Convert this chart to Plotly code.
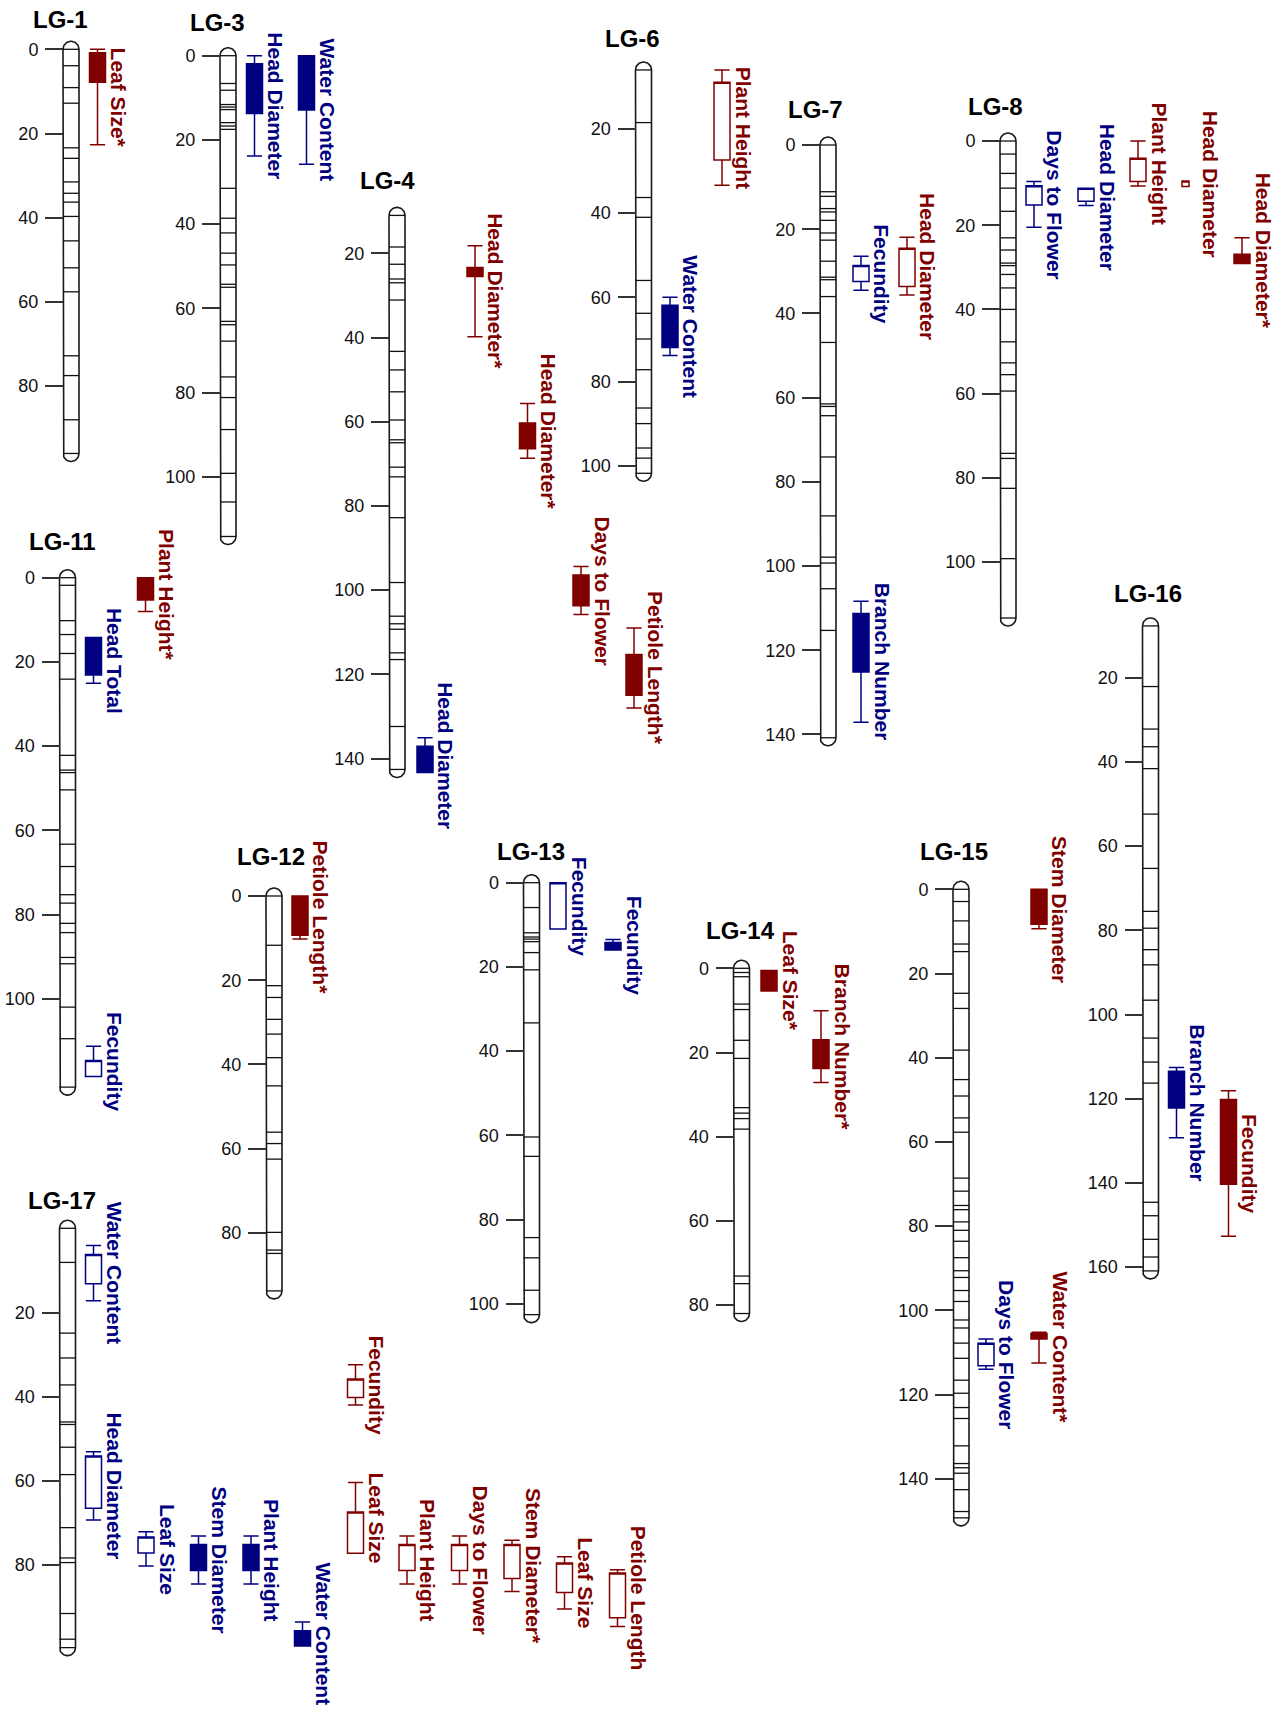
import numpy as np
import plotly.graph_objects as go

# ---------------- data ----------------
LG_NAMES = ["LG-1", "LG-3", "LG-4", "LG-6", "LG-7", "LG-8", "LG-11",
            "LG-12", "LG-13", "LG-14", "LG-15", "LG-16", "LG-17"]
LG_START = [0, 0, 11.0, 6.0, 0, 0, 0, 0, 0, 0, 0, 7.7, 0]
LG_END = [96.0, 114.2, 142.6, 101.8, 140.8, 113.3, 121.0, 93.8, 102.6, 82.0, 149.3, 160.9, 99.6]

TICKS = {
    "LG-1": [0, 20, 40, 60, 80],
    "LG-3": [0, 20, 40, 60, 80, 100],
    "LG-4": [20, 40, 60, 80, 100, 120, 140],
    "LG-6": [20, 40, 60, 80, 100],
    "LG-7": [0, 20, 40, 60, 80, 100, 120, 140],
    "LG-8": [0, 20, 40, 60, 80, 100],
    "LG-11": [0, 20, 40, 60, 80, 100],
    "LG-12": [0, 20, 40, 60, 80],
    "LG-13": [0, 20, 40, 60, 80, 100],
    "LG-14": [0, 20, 40, 60, 80],
    "LG-15": [0, 20, 40, 60, 80, 100, 120, 140],
    "LG-16": [20, 40, 60, 80, 100, 120, 140, 160],
    "LG-17": [20, 40, 60, 80],
}

MARKERS_LG1 = [0, 3.9, 9.1, 12.8, 23.4, 25.9, 31.5, 34.2, 36.3, 39.7, 45.5, 51.9, 57.6, 72.8, 77.5, 88.0, 96.0]
MARKERS_LG3 = [0, 6.6, 8.2, 11.6, 12.2, 12.8, 15.9, 16.7, 17.5, 31.5, 38.6, 42.1, 46.9, 49.7, 54.3, 55.0,
               63.1, 63.9, 67.8, 76.3, 81.2, 88.8, 99.2, 106.0, 114.2]
MARKERS_LG4 = [11.0, 18.5, 22.6, 26.1, 27.0, 31.1, 43.3, 47.7, 52.9, 59.6, 64.3, 65.0, 70.8, 73.1, 82.8,
               98.2, 106.2, 108.0, 109.3, 114.9, 116.5, 132.4, 142.6]
MARKERS_LG6 = [6.0, 18.5, 36.3, 41.0, 56.0, 63.8, 69.9, 77.2, 86.3, 90.0, 95.8, 98.2, 101.8]
MARKERS_LG7 = [0, 11.1, 12.2, 15.1, 15.9, 17.9, 20.9, 22.6, 27.6, 31.4, 32.0, 36.0, 46.9, 61.5, 62.1, 64.3,
               74.1, 88.1, 97.9, 99.3, 105.4, 115.3, 140.8]
MARKERS_LG8 = [0, 3.1, 7.7, 11.2, 16.7, 23.0, 25.9, 29.0, 29.6, 31.7, 34.9, 40.0, 47.7, 52.7, 55.5, 59.4,
               74.2, 75.4, 82.5, 99.2, 113.3]
MARKERS_LG11 = [0, 1.8, 10.2, 13.5, 18.0, 24.1, 42.2, 45.7, 46.3, 50.4, 63.3, 68.6, 75.3, 77.3, 82.1, 84.3,
                90.2, 91.7, 102.0, 109.5, 121.0]
MARKERS_LG12 = [0, 11.7, 21.3, 24.1, 29.3, 32.8, 38.4, 45.1, 56.1, 58.8, 62.5, 79.9, 84.1, 84.9, 93.8]
MARKERS_LG13 = [0, 5.9, 11.9, 12.9, 13.4, 14.0, 16.6, 20.7, 33.3, 60.4, 65.0, 84.3, 89.1, 96.8, 102.6]
MARKERS_LG14 = [0, 1.0, 2.0, 8.5, 9.8, 17.1, 21.4, 33.1, 34.4, 35.7, 38.2, 73.1, 74.9, 82.0]
MARKERS_LG15 = [0, 2.9, 7.5, 13.0, 14.8, 24.7, 28.3, 38.2, 45.2, 49.1, 54.3, 57.7, 68.6, 71.7, 75.1, 76.1,
                79.0, 81.0, 83.6, 87.5, 90.6, 92.2, 95.3, 97.9, 102.3, 104.2, 107.8, 111.4, 116.6, 119.7,
                123.1, 125.7, 132.2, 136.4, 137.4, 138.7, 142.6, 147.8, 149.3]
MARKERS_LG16 = [7.7, 22.1, 32.2, 36.4, 41.6, 52.4, 65.3, 75.5, 79.5, 84.6, 88.2, 96.6, 105.6, 111.3, 116.3,
                144.6, 147.8, 153.4, 157.6, 160.9]
MARKERS_LG17 = [0, 8.1, 24.9, 30.8, 37.2, 46.0, 46.6, 52.0, 58.5, 71.1, 78.3, 79.4, 91.5, 97.6, 99.6]

MARKERS = [MARKERS_LG1, MARKERS_LG3, MARKERS_LG4, MARKERS_LG6, MARKERS_LG7, MARKERS_LG8, MARKERS_LG11,
           MARKERS_LG12, MARKERS_LG13, MARKERS_LG14, MARKERS_LG15, MARKERS_LG16, MARKERS_LG17]

# QTL intervals (cM): outer interval (whiskers) and inner interval (box)
QTL_LG = ["LG-1", "LG-3", "LG-3", "LG-4", "LG-4", "LG-4", "LG-4", "LG-4", "LG-6", "LG-6",
          "LG-7", "LG-7", "LG-7", "LG-8", "LG-8", "LG-8", "LG-8", "LG-8",
          "LG-11", "LG-11", "LG-11", "LG-12", "LG-13", "LG-13", "LG-14", "LG-14",
          "LG-15", "LG-15", "LG-15", "LG-16", "LG-16",
          "LG-17", "LG-17", "LG-17", "LG-17", "LG-17", "LG-17", "LG-17", "LG-17", "LG-17",
          "LG-17", "LG-17", "LG-17", "LG-17"]
QTL_TRAIT = ["Leaf Size*", "Head Diameter", "Water Content", "Head Diameter*", "Head Diameter*",
             "Days to Flower", "Petiole Length*", "Head Diameter", "Plant Height", "Water Content",
             "Fecundity", "Head Diameter", "Branch Number", "Days to Flower", "Head Diameter",
             "Plant Height", "Head Diameter", "Head Diameter*",
             "Head Total", "Plant Height*", "Fecundity", "Petiole Length*", "Fecundity", "Fecundity",
             "Leaf Size*", "Branch Number*", "Stem Diameter", "Days to Flower", "Water Content*",
             "Branch Number", "Fecundity",
             "Water Content", "Head Diameter", "Leaf Size", "Stem Diameter", "Plant Height",
             "Water Content", "Fecundity", "Leaf Size", "Plant Height", "Days to Flower",
             "Stem Diameter*", "Leaf Size", "Petiole Length"]
QTL_GROUP = ["A", "B", "B", "A", "A", "A", "A", "B", "A", "B",
             "B", "A", "B", "B", "B", "A", "A", "A",
             "B", "A", "B", "A", "B", "B", "A", "A",
             "A", "B", "A", "B", "A",
             "B", "B", "B", "B", "B", "B", "A", "A", "A", "A", "A", "A", "A"]
QTL_SOLID = [1, 1, 1, 1, 1, 1, 1, 1, 0, 1,
             0, 0, 1, 0, 0, 0, 0, 1,
             1, 1, 0, 1, 0, 1, 1, 1,
             1, 0, 1, 1, 1,
             0, 0, 0, 1, 1, 1, 0, 0, 0, 0, 0, 0, 0]
QTL_LO = [0, 0, 0, 18.2, 55.7, 94.4, 109.0, 135.1, 6.0, 60.0,
          26.4, 21.9, 108.4, 9.6, 11.2, 0, 9.5, 23.0,
          14.2, 0, 111.3, 0, 0, 13.5, 0.5, 10.1,
          0, 106.8, 105.2, 112.6, 118.1,
          4.1, 53.1, 72.1, 73.1, 73.1, 93.5, 32.4, 60.4, 73.1, 73.1, 74.1, 78.0, 81.1]
QTL_Q1 = [0.8, 1.9, 0, 23.4, 60.3, 96.4, 115.3, 137.1, 8.9, 61.9,
          28.6, 24.5, 111.3, 10.6, 11.2, 4.1, 9.5, 26.9,
          14.2, 0, 114.7, 0, 0, 14.2, 0.5, 17.0,
          0, 107.8, 105.5, 113.5, 120.2,
          6.2, 54.1, 73.3, 75.1, 75.1, 95.6, 35.8, 67.4, 75.1, 75.1, 75.1, 79.5, 81.9]
QTL_Q3 = [7.8, 13.7, 12.9, 25.5, 66.4, 103.7, 125.0, 143.3, 27.4, 71.9,
          32.4, 33.6, 125.2, 15.2, 14.3, 9.6, 10.8, 29.1,
          23.1, 5.3, 118.5, 9.3, 11.0, 16.0, 5.4, 23.8,
          8.3, 113.2, 106.8, 122.2, 140.3,
          13.2, 66.5, 77.1, 81.3, 81.3, 99.2, 40.2, 77.2, 81.3, 81.3, 83.2, 86.5, 92.5]
QTL_HI = [22.7, 23.8, 25.8, 39.8, 68.7, 105.8, 128.0, 143.3, 33.4, 73.8,
          34.5, 35.6, 137.1, 20.5, 15.3, 10.7, 10.8, 29.1,
          25.1, 8.0, 118.5, 10.2, 11.0, 16.0, 5.4, 27.1,
          9.4, 114.0, 112.5, 129.3, 152.7,
          17.2, 69.3, 80.2, 84.5, 84.5, 99.2, 42.0, 77.2, 84.5, 84.5, 86.3, 90.4, 94.6]

# ---------------- layout (pixel positions / styles) ----------------
W, H = 1283, 1711
PX_PER_CM = 4.21
HALF_W = 8.0                 # chromosome half-width in px
LG_X = [71, 228, 397, 643.5, 828, 1008, 67.5, 274, 531.5, 741.5, 961, 1150.5, 67.5]
LG_Y0 = [49.3, 55.7, 169.1, 44.7, 145, 141, 577.7, 896, 882.7, 968.3, 889.3, 593.5, 1228.3]
LG_TITLE_X = [60, 217, 387, 632, 815, 995, 62, 271, 531, 740, 954, 1148, 62]
LG_TITLE_Y = [19.5, 22.5, 180, 39, 109, 106, 541, 856, 851, 930, 851, 593, 1200]

QTL_X = [97.5, 254.5, 306.5, 475, 527.5, 581, 634, 425, 722, 670,
         861, 907, 861, 1034, 1086, 1138, 1185.5, 1242,
         93.5, 145.5, 93.5, 300, 558, 613, 769, 821,
         1039, 986, 1039, 1176.5, 1228.5,
         93.5, 93.5, 146, 198.5, 251, 302.5, 355.5, 355.5, 407, 459.5, 512, 564.5, 617.5]
QTL_W = [7 if i == 16 else 16 for i in range(len(QTL_X))]
QTL_LABEL_DX = [24.5 if i == 16 else 21 for i in range(len(QTL_X))]

COLORS = {"A": "#800000", "B": "#000080"}
FONT = "Liberation Sans, Arial, sans-serif"

fig = go.Figure()
annotations = []

for i, name in enumerate(LG_NAMES):
    ax_id = "" if i == 0 else str(i + 1)
    yref = "y" + ax_id
    cx, y0 = LG_X[i], LG_Y0[i]
    start, end = LG_START[i], LG_END[i]
    r_cm = HALF_W / PX_PER_CM

    # chromosome outline (capsule)
    t_bot = np.linspace(np.pi, 2 * np.pi, 30)
    t_top = np.linspace(0, np.pi, 30)
    xs = [cx - HALF_W, cx - HALF_W]
    ys = [start, end]
    xs += list(cx + HALF_W * np.cos(t_bot))
    ys += list(end - r_cm * np.sin(t_bot))
    xs += [cx + HALF_W, cx + HALF_W]
    ys += [end, start]
    xs += list(cx + HALF_W * np.cos(t_top))
    ys += list(start - r_cm * np.sin(t_top))
    fig.add_trace(go.Scatter(x=xs, y=ys, mode="lines", fill="toself", fillcolor="white",
                             line=dict(color="#1a1a1a", width=1.6), hoverinfo="skip",
                             showlegend=False, xaxis="x", yaxis=yref))
    # markers
    mx, my = [], []
    for m in MARKERS[i]:
        mx += [cx - HALF_W, cx + HALF_W, None]
        my += [m, m, None]
    fig.add_trace(go.Scatter(x=mx, y=my, mode="lines", line=dict(color="#111111", width=1.3),
                             hoverinfo="skip", showlegend=False, xaxis="x", yaxis=yref))

    # y axis for this LG (screen px -> cM)
    axis = dict(
        range=[(H - y0) / PX_PER_CM, (0 - y0) / PX_PER_CM],
        tickmode="array", tickvals=TICKS[name], ticktext=[str(v) for v in TICKS[name]],
        ticks="outside", ticklen=18, tickwidth=1.5, tickcolor="#333333",
        tickfont=dict(family=FONT, size=18, color="#111111"),
        showline=False, showgrid=False, zeroline=False,
        anchor="free", position=(cx - HALF_W) / W, side="left",
        ticklabelstandoff=3,
    )
    if i > 0:
        axis["overlaying"] = "y"
    fig.update_layout(**{"yaxis" + ax_id: axis})

    annotations.append(dict(text=name, x=LG_TITLE_X[i], y=1 - LG_TITLE_Y[i] / H,
                            xref="x", yref="paper", showarrow=False,
                            font=dict(family=FONT, size=24, color="black", weight="bold"),
                            xanchor="center", yanchor="middle"))

# QTL boxes
for j in range(len(QTL_TRAIT)):
    i = LG_NAMES.index(QTL_LG[j])
    ax_id = "" if i == 0 else str(i + 1)
    yref = "y" + ax_id
    col = COLORS[QTL_GROUP[j]]
    fig.add_trace(go.Box(
        x=[QTL_X[j]], q1=[QTL_Q1[j]], median=[QTL_Q1[j]], q3=[QTL_Q3[j]],
        lowerfence=[QTL_LO[j]], upperfence=[QTL_HI[j]],
        width=QTL_W[j], whiskerwidth=0.95, orientation="v",
        line=dict(color=col, width=1.5),
        fillcolor=col if QTL_SOLID[j] else "white",
        boxpoints=False, hoverinfo="skip", showlegend=False,
        xaxis="x", yaxis=yref))
    annotations.append(dict(text=QTL_TRAIT[j], x=QTL_X[j] + QTL_LABEL_DX[j],
                            y=(QTL_LO[j] + QTL_HI[j]) / 2, xref="x", yref=yref,
                            textangle=90, showarrow=False,
                            font=dict(family=FONT, size=21, color=col, weight="bold"),
                            xanchor="center", yanchor="middle"))

fig.update_layout(
    width=W, height=H,
    margin=dict(l=0, r=0, t=0, b=0),
    paper_bgcolor="white", plot_bgcolor="white",
    xaxis=dict(range=[0, W], visible=False, domain=[0, 1], anchor="y"),
    annotations=annotations,
    showlegend=False,
    boxmode="overlay",
)

# remove the default page margin so the figure fills the window exactly
fig.write_html("out.html", config={"displayModeBar": False},
               post_script="document.body.style.margin='0';document.body.style.overflow='hidden';")
